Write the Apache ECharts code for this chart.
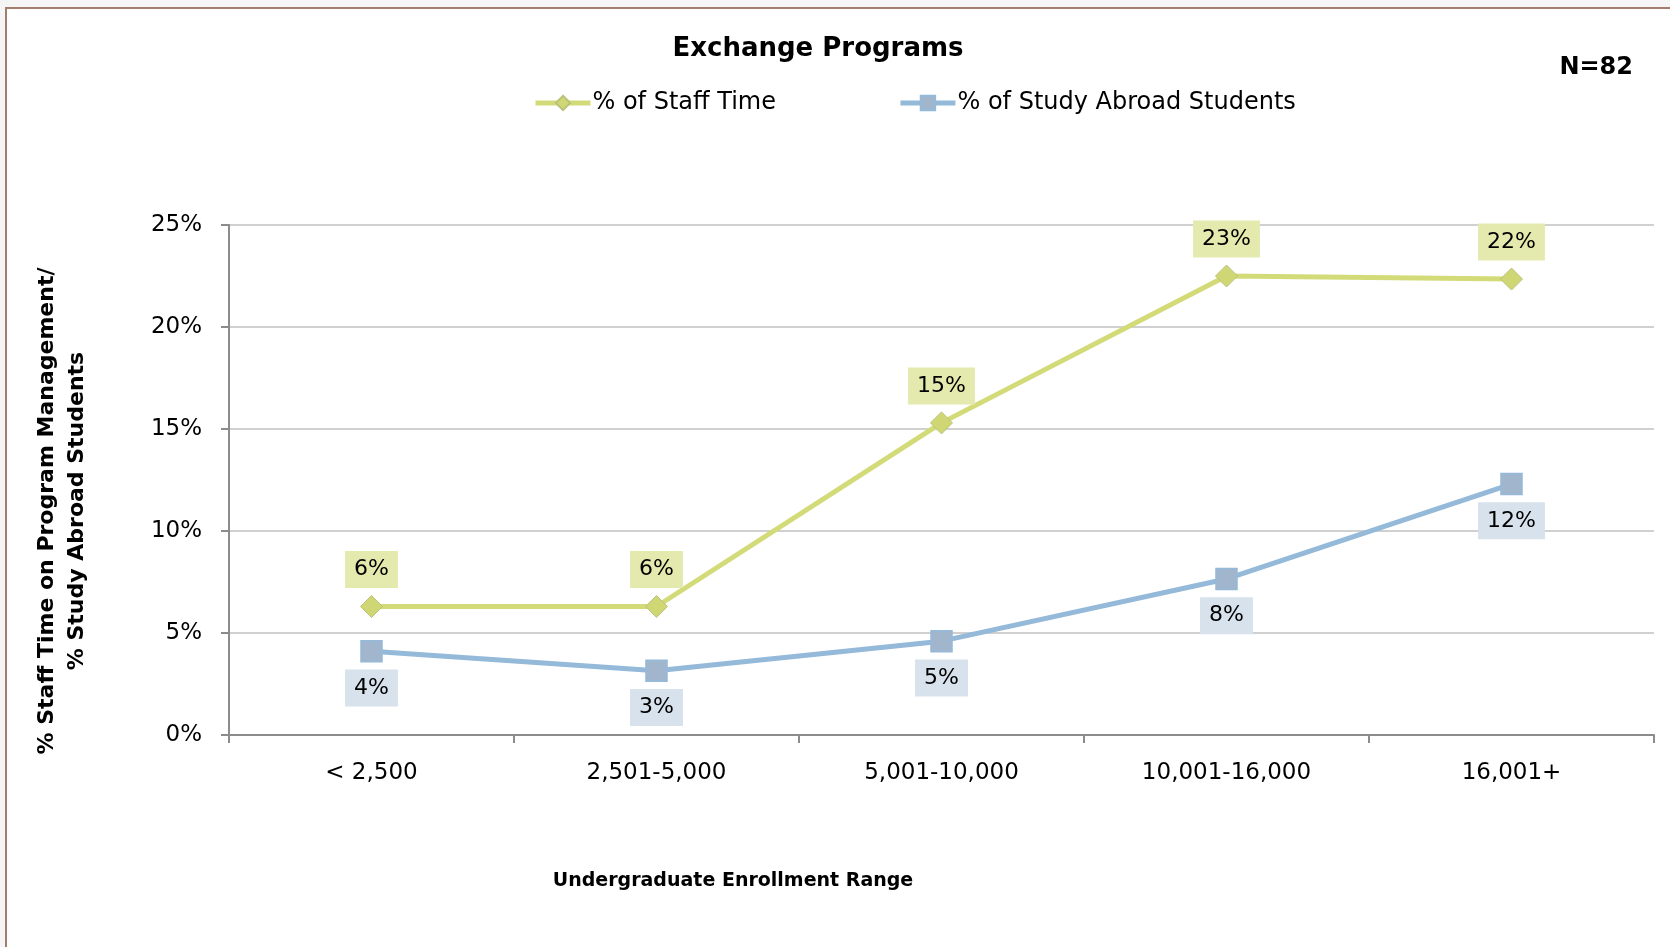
<!DOCTYPE html>
<html>
<head>
<meta charset="utf-8">
<script src="https://cdn.jsdelivr.net/npm/echarts@6/dist/echarts.min.js"></script>
<style>
  html, body { margin: 0; padding: 0; }
  #wrap { position: relative; width: 1670px; height: 947px; background: #f5f5f5; overflow: hidden; }
  #frame { position: absolute; left: 5px; top: 7px; width: 1700px; height: 1000px; background: #fff; border: 2px solid #a57d6f; box-sizing: border-box; }
  #chart { position: absolute; left: 0; top: 0; width: 1670px; height: 947px; }
</style>
</head>
<body>
<div id="wrap">
  <div id="frame"></div>
  <div id="chart"></div>
</div>
<script>
const categories = ['< 2,500', '2,501-5,000', '5,001-10,000', '10,001-16,000', '16,001+'];
const staffTime = [6.3, 6.3, 15.3, 22.5, 22.35];
const studyAbroad = [4.1, 3.15, 4.6, 7.65, 12.3];
const yTicks = { min: 0, max: 25, interval: 5 };
const seriesNames = ['% of Staff Time', '% of Study Abroad Students'];
const yAxisTitle = '% Staff Time on Program Management/\n% Study Abroad Students';
const xAxisTitle = 'Undergraduate Enrollment Range';

const FONT = 'DejaVu Sans';
const chart = echarts.init(document.getElementById('chart'), null, { renderer: 'canvas' });

const pct = p => Math.round(p.value) + '%';

chart.setOption({
  backgroundColor: 'transparent',
  animation: false,
  textStyle: { fontFamily: FONT },
  title: [
    {
      text: 'Exchange Programs',
      left: 813, top: 31, textAlign: 'center',
      textStyle: { fontFamily: FONT, fontSize: 26, fontWeight: 'bold', color: '#000' }
    },
    {
      text: 'N=82',
      right: 32, top: 51,
      textStyle: { fontFamily: FONT, fontSize: 24, fontWeight: 'bold', color: '#000' }
    }
  ],
  legend: {
    left: 528, top: 86,
    itemWidth: 55, itemHeight: 18, itemGap: 122,
    lineStyle: { width: 5 },
    textStyle: { fontFamily: FONT, fontSize: 24, color: '#000', padding: [0, 0, 0, -3] },
    data: seriesNames
  },
  grid: { left: 229, right: 16, top: 225, bottom: 212, containLabel: false, outerBoundsMode: 'none' },
  xAxis: {
    type: 'category',
    data: categories,
    boundaryGap: true,
    axisLine: { lineStyle: { color: '#8c8c8c', width: 2 } },
    axisTick: { show: true, length: 8, lineStyle: { color: '#8c8c8c', width: 2 } },
    axisLabel: { fontFamily: FONT, fontSize: 23, color: '#000', margin: 27 },
    splitLine: { show: false }
  },
  yAxis: {
    type: 'value',
    min: yTicks.min, max: yTicks.max, interval: yTicks.interval,
    axisLine: { show: true, lineStyle: { color: '#8c8c8c', width: 2 } },
    axisTick: { show: true, length: 8, lineStyle: { color: '#8c8c8c', width: 2 } },
    axisLabel: { fontFamily: FONT, fontSize: 23, color: '#000', margin: 27, padding: [4, 0, 0, 0], formatter: v => v + '%' },
    splitLine: { show: true, lineStyle: { color: '#c0c0c0', width: 1.5 } }
  },
  graphic: [
    {
      type: 'text',
      x: 62, y: 511,
      rotation: Math.PI / 2,
      style: {
        text: yAxisTitle,
        align: 'center', verticalAlign: 'middle',
        fill: '#000',
        lineHeight: 30,
        font: 'bold 22px "DejaVu Sans"'
      }
    },
    {
      type: 'text',
      x: 733, y: 881,
      style: {
        text: xAxisTitle,
        align: 'center', verticalAlign: 'middle',
        fill: '#000',
        font: 'bold 19px "DejaVu Sans"'
      }
    }
  ],
  series: [
    {
      name: seriesNames[0],
      type: 'line',
      data: staffTime,
      symbol: 'diamond',
      symbolSize: 22,
      lineStyle: { color: '#d3db79', width: 5 },
      itemStyle: { color: '#cfd774', borderColor: '#bcc27a', borderWidth: 1 },
      label: {
        show: true, position: 'top', distance: 7,
        formatter: pct,
        fontFamily: FONT, fontSize: 22, lineHeight: 23, color: '#000',
        backgroundColor: '#e4eaae',
        padding: [7, 9, 7, 9]
      },
      z: 3
    },
    {
      name: seriesNames[1],
      type: 'line',
      data: studyAbroad,
      symbol: 'rect',
      symbolSize: 21,
      lineStyle: { color: '#94b9d9', width: 5 },
      itemStyle: { color: '#a1b6cc', borderColor: '#94b9d9', borderWidth: 1.5 },
      label: {
        show: true, position: 'bottom', distance: 7,
        formatter: pct,
        fontFamily: FONT, fontSize: 22, lineHeight: 23, color: '#000',
        backgroundColor: '#d7e2ec',
        padding: [7, 9, 7, 9]
      },
      z: 2
    }
  ]
});
</script>
</body>
</html>
